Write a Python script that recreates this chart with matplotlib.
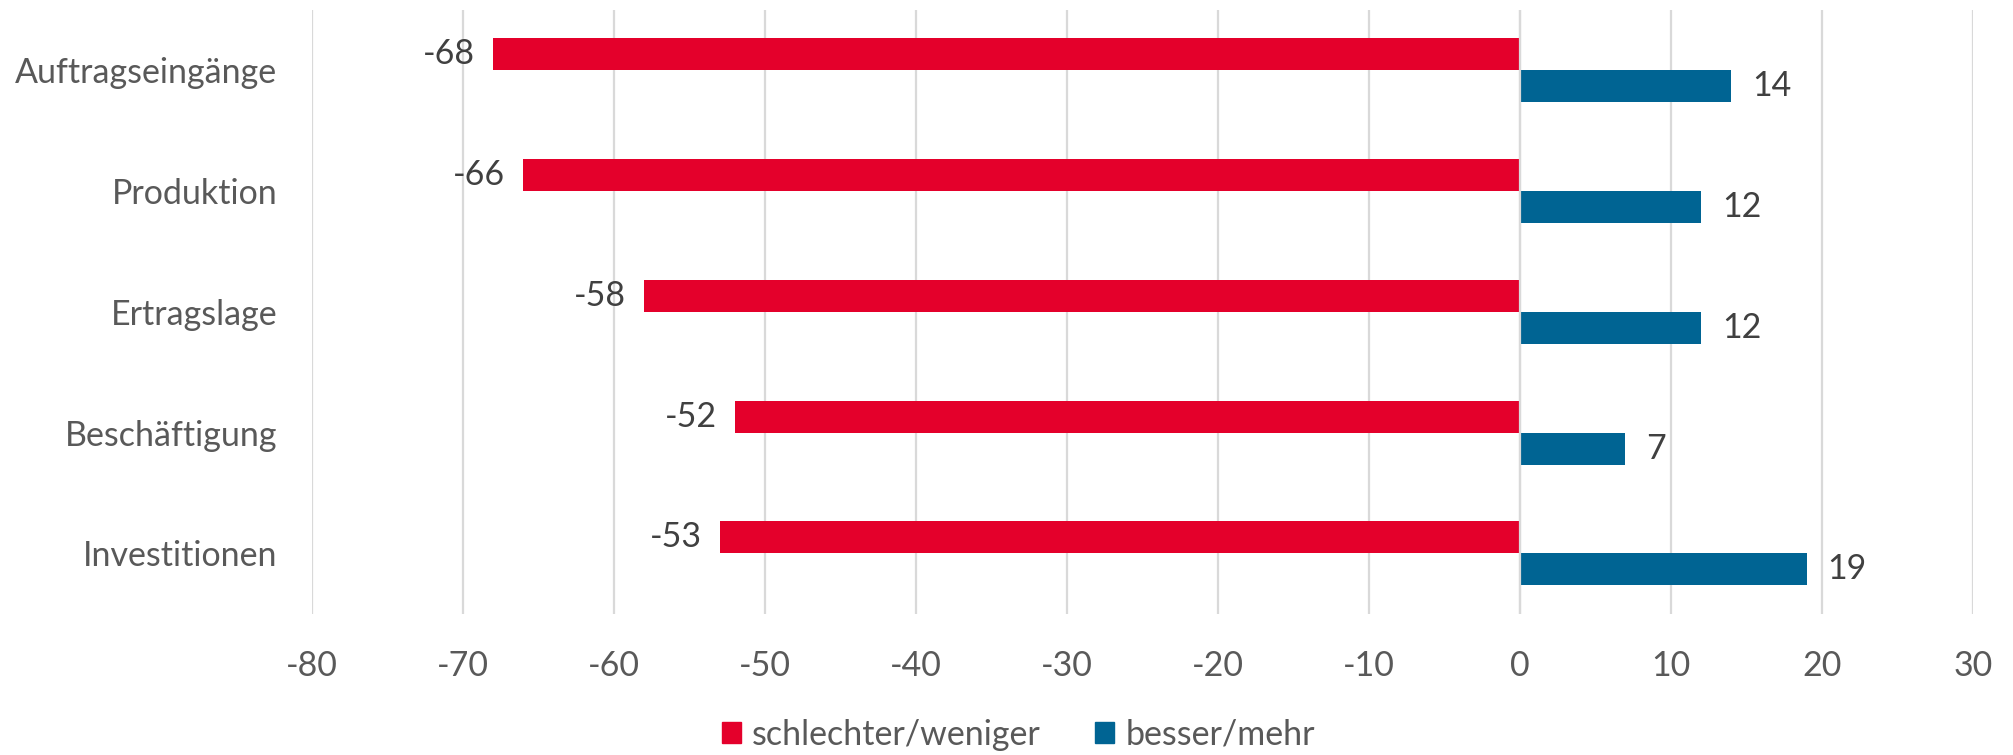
import numpy as np
import matplotlib
matplotlib.use("Agg")
import matplotlib.pyplot as plt
from matplotlib.patches import Patch

# data (top to bottom)
categories = ["Auftragseingänge", "Produktion", "Ertragslage", "Beschäftigung", "Investitionen"]
worse = [-68, -66, -58, -52, -53]      # schlechter/weniger
better = [14, 12, 12, 7, 19]           # besser/mehr
series_names = ["schlechter/weniger", "besser/mehr"]
xticks = [-80, -70, -60, -50, -40, -30, -20, -10, 0, 10, 20, 30]

RED, BLUE = "#E4002B", "#006493"
GRID, TXT, LBL = "#D9D9D9", "#595959", "#404040"
FS = 24.5

plt.rcParams["font.family"] = ["Lato", "DejaVu Sans"]

fig = plt.figure(figsize=(20.13, 7.55), dpi=100)
ax = fig.add_axes([0.155, 0.187, 0.825, 0.80])

y = np.arange(len(categories))
h = 0.265
b1 = ax.barh(y - h / 2, worse, height=h, color=RED, zorder=2)
b2 = ax.barh(y + h / 2, better, height=h, color=BLUE, zorder=2)
ax.axvline(0, color=GRID, lw=1.6, zorder=3)

ax.bar_label(b1, fmt="%d", padding=13, fontsize=FS, color=LBL)
ax.bar_label(b2, fmt="%d", padding=15, fontsize=FS, color=LBL)

ax.set_xlim(-80, 30)
ax.set_ylim(len(categories) - 0.5, -0.5)
ax.set_xticks(xticks)
ax.set_xticklabels([str(v) for v in xticks])
ax.set_yticks(y)
ax.set_yticklabels(categories)
ax.tick_params(axis="x", length=0, pad=26, labelsize=FS, labelcolor=TXT)
ax.tick_params(axis="y", length=0, pad=25, labelsize=FS, labelcolor=TXT)
ax.grid(axis="x", color=GRID, lw=1.6, zorder=0)
ax.set_axisbelow(True)
for s in ax.spines.values():
    s.set_visible(False)

handles = [Patch(color=RED), Patch(color=BLUE)]
fig.legend(handles, series_names, loc="center", bbox_to_anchor=(0.506, 0.027),
           ncol=2, frameon=False, fontsize=FS, labelcolor=TXT,
           handlelength=0.56, handleheight=0.58, handletextpad=0.33, columnspacing=1.6)

fig.savefig("out.png", dpi=100)
